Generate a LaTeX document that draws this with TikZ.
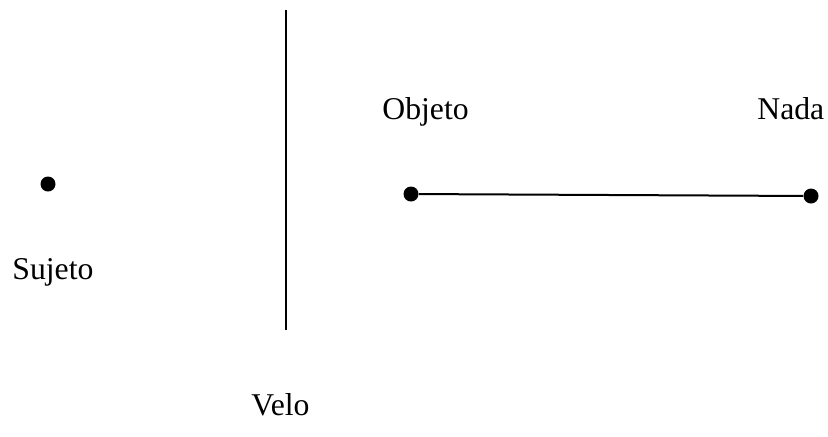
\documentclass[tikz,border=0pt]{standalone}
\usepackage{fontspec}
\setmainfont{Liberation Serif}
\begin{document}
\begin{tikzpicture}[x=0.5pt,y=-0.5pt,
  lbl/.style={inner sep=0pt,anchor=base west,font=\fontsize{15.85}{19}\selectfont},
  dotnode/.style={circle,fill=black,inner sep=0pt,minimum size=7.5pt},
  ln/.style={line width=1pt}]
\useasboundingbox (0,0) rectangle (828,436);
\node[dotnode] (s) at (48,184) {};
\node[lbl] (sl) at (12,279) {Sujeto};
\coordinate (vt) at (286,10);
\coordinate (vb) at (286,330);
\draw[ln] (vt) -- (vb);
\node[lbl] (ol) at (382,119) {Objeto};
\node[lbl] (nl) at (757,119) {Nada};
\node[dotnode] (o) at (411,194) {};
\node[dotnode] (n) at (811,196) {};
\draw[ln] (o) -- (n);
\node[lbl] (vl) at (251,415) {Velo};
\end{tikzpicture}
\end{document}
